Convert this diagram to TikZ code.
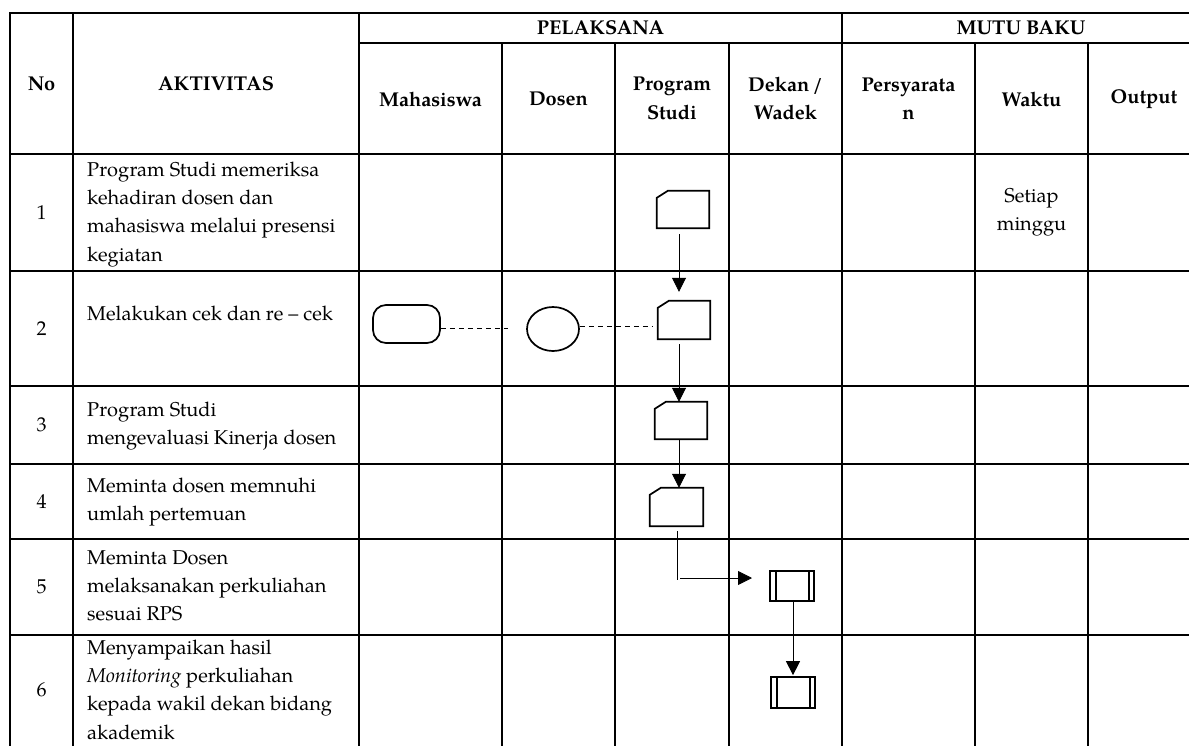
\documentclass[tikz,border=0pt]{standalone}
\usepackage{fontspec}
\setmainfont{texgyrepagella}[Extension=.otf, UprightFont=*-regular, BoldFont=*-bold, ItalicFont=*-italic, BoldItalicFont=*-bolditalic]
\usetikzlibrary{arrows.meta,shapes.geometric}
\begin{document}
\begin{tikzpicture}[x=1pt,y=-1pt,
  grid/.style={line width=1.3pt, line cap=rect},
  txt/.style={inner sep=0pt, anchor=north west, align=left, font=\fontsize{20}{28.3}\selectfont},
  hdr/.style={inner sep=0pt, align=center, font=\fontsize{20}{28.3}\selectfont\bfseries},
  num/.style={inner sep=0pt, align=center, font=\fontsize{20}{28.3}\selectfont},
  cardbox/.style={draw=none, inner sep=0pt, minimum width=52pt, minimum height=37pt},
  shapeline/.style={line width=1.7pt, line join=miter},
  procbox/.style={draw, line width=1.7pt, inner sep=0pt, minimum width=44pt, minimum height=30pt},
  termbox/.style={draw, line width=1.7pt, rounded corners=13pt, inner sep=0pt, minimum width=67pt, minimum height=38pt},
  circbox/.style={draw, ellipse, line width=1.7pt, inner sep=0pt, minimum width=52pt, minimum height=44pt},
  conn/.style={line width=0.8pt},
  arr/.style={line width=0.8pt, -{Triangle[length=14pt,width=14pt]}},
  dashline/.style={line width=0.8pt, dash pattern=on 5pt off 4pt}
]
\useasboundingbox (0,0) rectangle (1189,745);
\clip (0,0) rectangle (1189,745);

% ---- grid ----
\draw[grid] (10,13) -- (1205,13);
\draw[grid] (359,43) -- (1205,43);
\foreach \yy in {154,271,386,464,539,635}
  \draw[grid] (10,\yy) -- (1205,\yy);
\foreach \xx in {10,73,359,842}
  \draw[grid] (\xx,13) -- (\xx,750);
\foreach \xx in {502,615,729,975,1088}
  \draw[grid] (\xx,43) -- (\xx,750);

% ---- headers ----
\node[hdr] (hno) at (41.5,84) {No};
\node[hdr] (hakt) at (216,84) {AKTIVITAS};
\node[hdr] (hpel) at (600.5,28) {PELAKSANA};
\node[hdr] (hmutu) at (1021,28) {MUTU BAKU};
\node[hdr] (hmhs) at (430.5,99) {Mahasiswa};
\node[hdr] (hdos) at (558.5,99) {Dosen};
\node[hdr] (hps) at (672,98.5) {Program\\Studi};
\node[hdr] (hdek) at (785.5,98.5) {Dekan\,/\\Wadek};
\node[hdr] (hpers) at (908.5,98.5) {Persyarata\\n};
\node[hdr] (hwak) at (1031.5,99) {Waktu};
\node[hdr] (hout) at (1144,99) {Output};

% ---- numbers ----
\node[num] (n1) at (41.5,212.5) {1};
\node[num] (n2) at (41.5,328.5) {2};
\node[num] (n3) at (41.5,425) {3};
\node[num] (n4) at (41.5,501.5) {4};
\node[num] (n5) at (41.5,587) {5};
\node[num] (n6) at (41.5,690) {6};

% ---- activities ----
\node[txt] (a1) at (87,156.2) {\strut Program Studi memeriksa\\kehadiran dosen dan\\mahasiswa melalui presensi\\kegiatan};
\node[txt] (a2) at (87,300.2) {\strut Melakukan cek dan re – cek};
\node[txt] (a3) at (87,396.2) {\strut Program Studi\\mengevaluasi Kinerja dosen};
\node[txt] (a4) at (87,472.2) {\strut Meminta dosen memnuhi\\umlah pertemuan};
\node[txt] (a5) at (87,544.2) {\strut Meminta Dosen\\melaksanakan perkuliahan\\sesuai RPS};
\node[txt] (a6) at (87,634.2) {\strut Menyampaikan hasil\\\textit{Monitoring} perkuliahan\\kepada wakil dekan bidang\\akademik};

\node[num] (w1) at (1031.5,212.5) {Setiap\\minggu};

% ---- flow shapes ----
\node[cardbox] (s1) at (683,209.5) {};
\node[cardbox, minimum height=38pt] (s2) at (684,320) {};
\node[cardbox] (s3) at (681,420.5) {};
\node[cardbox, minimum width=53pt, minimum height=38pt] (s4) at (676.5,507) {};
\foreach \s in {s1,s2,s3,s4}
  \draw[shapeline] (\s.south west) -- ([yshift=-7pt]\s.north west) -- ([xshift=11pt]\s.north west) -- (\s.north east) -- (\s.south east) -- cycle;

\node[procbox] (s5) at (792,586) {};
\node[procbox, minimum height=31pt] (s6) at (793,692.5) {};
\foreach \s in {s5,s6} {
  \draw[shapeline] ([xshift=6.5pt]\s.north west) -- ([xshift=6.5pt]\s.south west);
  \draw[shapeline] ([xshift=-6pt]\s.north east) -- ([xshift=-6pt]\s.south east);
}

\node[termbox] (t) at (406.5,324) {};
\node[circbox] (c) at (553,329) {};

% ---- connectors ----
\coordinate (d1) at (508,328);
\draw[dashline] ([yshift=-4pt]t.east) -- (d1);
\draw[dashline, shorten >=5pt] ([yshift=3pt]c.east) -- ([yshift=-6pt]s2.west);

\draw[arr, shorten <=6pt, shorten >=9pt] ([xshift=-4pt]s1.south) -- ([xshift=-5pt]s2.north);
\draw[arr, shorten <=5pt] ([xshift=-5pt]s2.south) -- ([xshift=-2pt]s3.north);
\draw[arr, shorten <=1pt] ([xshift=-2pt]s3.south) -- ([xshift=2.5pt]s4.north);

\coordinate (k45) at (677,578);
\coordinate (e45) at (752,578);
\draw[conn, shorten <=5pt] ([xshift=0.5pt]s4.south) -- ([yshift=-2pt]k45);
\draw[arr] ([xshift=3pt]k45) -- (e45);

\draw[arr, shorten >=1pt] ([xshift=1pt]s5.south) -- (s6.north);
\end{tikzpicture}
\end{document}
